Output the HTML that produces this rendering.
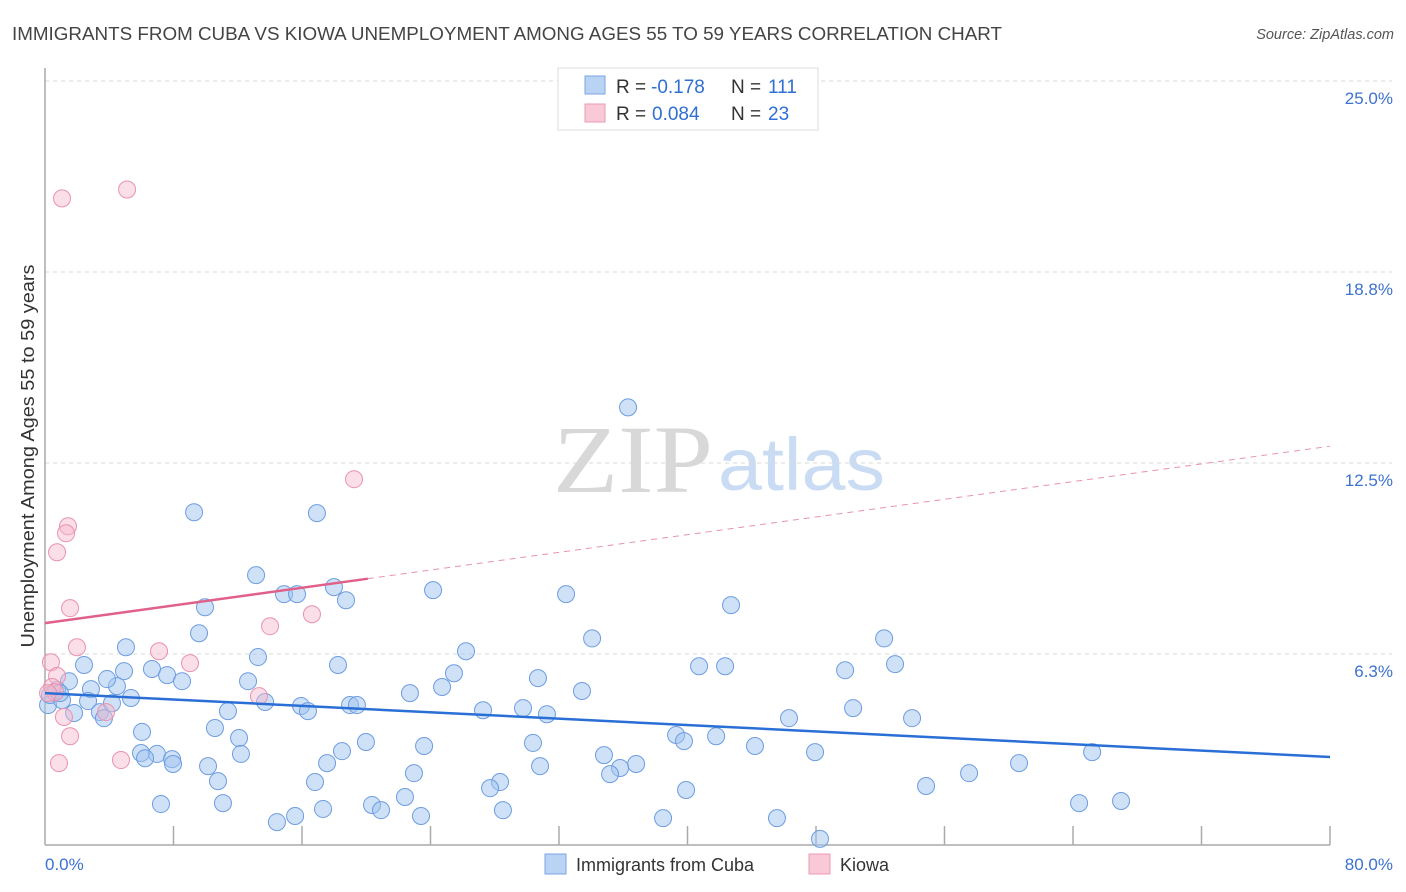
<!DOCTYPE html>
<html><head><meta charset="utf-8"><style>
body{margin:0;background:#fff;font-family:"Liberation Sans",sans-serif;}
svg{display:block}
</style></head><body>
<svg width="1406" height="892" xmlns="http://www.w3.org/2000/svg">
<text x="12" y="40" font-size="18" fill="#444" textLength="990" lengthAdjust="spacingAndGlyphs">IMMIGRANTS FROM CUBA VS KIOWA UNEMPLOYMENT AMONG AGES 55 TO 59 YEARS CORRELATION CHART</text>
<text x="1394" y="39" font-size="14.5" fill="#555" font-style="italic" text-anchor="end">Source: ZipAtlas.com</text>
<g>
<text x="553" y="492" font-family="Liberation Serif,serif" font-size="96" fill="#d8d8d8" textLength="160" lengthAdjust="spacingAndGlyphs">ZIP</text>
<text x="718" y="490" font-size="74" fill="#c9dcf3" textLength="167" lengthAdjust="spacingAndGlyphs">atlas</text>
</g>
<g id="grid"></g>
<g id="axes"></g>
<g id="pts"></g>
<g id="trend"></g>
<text transform="translate(34,456) rotate(-90)" font-size="18" fill="#333" text-anchor="middle" textLength="383" lengthAdjust="spacingAndGlyphs">Unemployment Among Ages 55 to 59 years</text>
<text x="45" y="870" font-size="17" fill="#3d72d0">0.0%</text>
<text x="1393" y="870" font-size="17" fill="#3d72d0" text-anchor="end">80.0%</text>
<g>
<rect x="558" y="68" width="260" height="62" fill="#fff" stroke="#ddd"/>
<rect x="585" y="76" width="20" height="18" fill="#b9d3f5" stroke="#7aa5e2"/>
<rect x="585" y="104" width="20" height="18" fill="#f9c9d7" stroke="#ea9ab4"/>
<g font-size="19">
<text x="616" y="93" fill="#333">R =</text><text x="651" y="93" fill="#2f6fd3">-0.178</text>
<text x="731" y="93" fill="#333">N =</text><text x="768" y="93" fill="#2f6fd3">111</text></g>
<g font-size="19">
<text x="616" y="120" fill="#333">R =</text><text x="652" y="120" fill="#2f6fd3">0.084</text>
<text x="731" y="120" fill="#333">N =</text><text x="768" y="120" fill="#2f6fd3">23</text></g>
</g>
<g>
<rect x="545" y="854" width="21" height="20" fill="#b9d3f5" stroke="#7aa5e2"/>
<text x="576" y="871" font-size="18" fill="#333">Immigrants from Cuba</text>
<rect x="809" y="854" width="21" height="20" fill="#f9c9d7" stroke="#ea9ab4"/>
<text x="840" y="871" font-size="18" fill="#333">Kiowa</text>
</g>
</svg>
<script>
const yTicks=[6.25,12.5,18.75,25];
const yTickLabels=["6.3%","12.5%","18.8%","25.0%"];
const xTicks=[8,16,24,32,40,48,56,64,72,80];
const cubaX=[9.28,16.93,36.30,13.14,17.99,14.88,15.69,18.74,24.16,32.44,42.71,9.96,9.59,34.06,52.24,5.04,26.21,13.26,2.43,18.24,40.72,42.34,49.81,52.92,4.92,6.66,7.60,8.53,1.49,12.64,25.46,2.86,4.48,3.86,24.72,30.69,22.72,33.43,5.35,13.70,15.94,16.37,18.99,19.42,11.39,27.27,29.76,31.25,50.31,46.32,53.98,6.04,10.58,39.29,39.78,41.78,12.08,23.60,19.98,30.38,44.20,47.94,65.19,5.98,6.97,6.23,7.91,12.20,18.49,34.80,17.56,10.15,36.80,7.97,30.82,35.80,35.18,22.97,60.64,57.53,10.77,16.81,28.33,27.71,39.91,54.85,22.41,7.22,11.08,20.36,20.92,17.31,28.51,64.38,66.99,15.57,23.41,14.44,38.48,45.57,48.25,0.19,0.31,0.75,1.06,0.93,2.68,3.42,3.67,1.81,4.17];
const cubaY=[10.89,10.86,14.32,8.83,8.44,8.21,8.21,8.01,8.34,8.21,7.85,7.78,6.93,6.76,6.76,6.47,6.34,6.15,5.89,5.89,5.85,5.85,5.72,5.92,5.69,5.76,5.56,5.36,5.36,5.36,5.62,5.10,5.20,5.43,5.17,5.46,4.97,5.04,4.81,4.68,4.55,4.38,4.58,4.58,4.38,4.41,4.48,4.28,4.48,4.15,4.15,3.70,3.83,3.60,3.40,3.56,3.50,3.24,3.37,3.34,3.24,3.04,3.04,3.01,2.98,2.84,2.81,2.98,3.07,2.94,2.68,2.58,2.65,2.65,2.58,2.52,2.32,2.35,2.68,2.35,2.09,2.06,2.06,1.86,1.80,1.93,1.57,1.34,1.37,1.31,1.14,1.18,1.14,1.37,1.44,0.95,0.95,0.75,0.88,0.88,0.20,4.58,4.91,5.07,4.74,4.97,4.71,4.35,4.15,4.32,4.64];
const kiowaX=[1.06,5.11,19.24,1.43,1.31,0.75,1.56,16.62,14.01,1.99,7.10,9.03,0.37,0.75,0.44,0.62,13.32,3.80,1.18,1.56,0.87,4.73,0.19];
const kiowaY=[21.16,21.45,11.97,10.43,10.20,9.58,7.75,7.55,7.16,6.47,6.34,5.95,5.98,5.53,5.17,5.00,4.87,4.35,4.19,3.56,2.68,2.78,4.97];
const cubaTrend=[4.97,2.88];
const kiowaTrend=[7.26,13.05];
const kiowaSolidEnd=20.1;

const NS="http://www.w3.org/2000/svg";
const X0=45,X1=1330,Y0=845,YTOP=81;
const sx=v=>X0+(v/80)*(X1-X0);
const sy=v=>Y0-(v/25)*(Y0-YTOP);
function mk(tag,attrs,parent){const e=document.createElementNS(NS,tag);for(const k in attrs)e.setAttribute(k,attrs[k]);parent.appendChild(e);return e;}
const grid=document.getElementById('grid'),axes=document.getElementById('axes'),pts=document.getElementById('pts'),trend=document.getElementById('trend');
yTicks.forEach((t,i)=>{
  const l=mk('line',{x1:X0,x2:X1+62,y1:sy(t),y2:sy(t),stroke:'#d9d9d9','stroke-dasharray':'4,4'},grid);
  
  
  const tx=mk('text',{x:1393,y:sy(t)+23,'font-size':17,fill:'#3d72d0','text-anchor':'end'},grid);
  tx.textContent=yTickLabels[i];
  
  
});
const ya=mk('line',{x1:X0,x2:X0,y1:68,y2:Y0,stroke:'#aaa','stroke-width':1.5},axes);


const xa=mk('line',{x1:X0,x2:X1,y1:Y0,y2:Y0,stroke:'#aaa','stroke-width':1.5},axes);


xTicks.forEach(t=>{
  const l=mk('line',{x1:sx(t),x2:sx(t),y1:Y0,y2:Y0-19,stroke:'#aaa','stroke-width':1.5},axes);
  
  
});
cubaX.forEach((v,i)=>{
  const c=mk('circle',{cx:sx(v),cy:sy(cubaY[i]),r:8.5,fill:'rgba(160,196,240,0.5)',stroke:'#6d9de0','stroke-width':1},pts);
  
  
});
kiowaX.forEach((v,i)=>{
  const c=mk('circle',{cx:sx(v),cy:sy(kiowaY[i]),r:8.5,fill:'rgba(247,185,204,0.45)',stroke:'#ea92ae','stroke-width':1},pts);
  
  
});
const kAt=x=>kiowaTrend[0]+(kiowaTrend[1]-kiowaTrend[0])*x/80;
const kd=mk('line',{x1:sx(kiowaSolidEnd),y1:sy(kAt(kiowaSolidEnd)),x2:sx(80),y2:sy(kiowaTrend[1]),stroke:'#e893ae','stroke-width':1,'stroke-dasharray':'6,5'},trend);


const ks=mk('line',{x1:sx(0),y1:sy(kiowaTrend[0]),x2:sx(kiowaSolidEnd),y2:sy(kAt(kiowaSolidEnd)),stroke:'#e0608a','stroke-width':2.5},trend);


const cl=mk('line',{x1:sx(0),y1:sy(cubaTrend[0]),x2:sx(80),y2:sy(cubaTrend[1]),stroke:'#2a6fd6','stroke-width':2.5},trend);


</script>
</body></html>
